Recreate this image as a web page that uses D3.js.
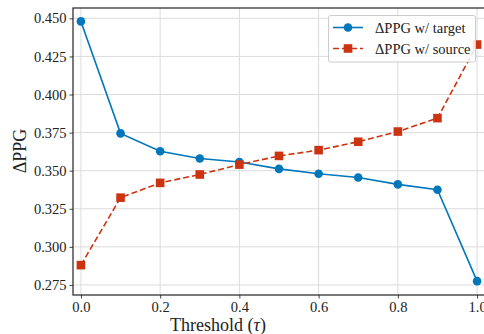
<!DOCTYPE html>
<html>
<head>
<meta charset="utf-8">
<script src="https://cdn.jsdelivr.net/npm/d3@7"></script>
<style>
  body { margin: 0; background: #fff; }
  svg text { font-family: "Liberation Serif", "DejaVu Serif", serif; }
</style>
</head>
<body>
<svg id="chart" width="484" height="334"></svg>
<script>
// data
const thresholds = [0.0, 0.1, 0.2, 0.3, 0.4, 0.5, 0.6, 0.7, 0.8, 0.9, 1.0];
const ppgTarget = [0.448, 0.3745, 0.3628, 0.358, 0.3557, 0.3512, 0.348, 0.3455, 0.341, 0.3375, 0.2775];
const ppgSource = [0.288, 0.3323, 0.342, 0.3475, 0.354, 0.3597, 0.3635, 0.369, 0.3757, 0.3845, 0.4328];
const xTicks = [0.0, 0.2, 0.4, 0.6, 0.8, 1.0];
const yTicks = [0.275, 0.300, 0.325, 0.350, 0.375, 0.400, 0.425, 0.450];
const seriesNames = ['\u0394PPG w/ target', '\u0394PPG w/ source'];

const margin = { left: 73, top: 8, right: -1, bottom: 39 };
const width = 484, height = 334;
const blue = '#0077bb', red = '#cc3311';
const serif = '"Liberation Serif", "DejaVu Serif", serif';

const svg = d3.select('#chart');

const xScale = d3.scaleLinear().domain([-0.02, 1.02]).range([margin.left, width - margin.right]);
const yScale = d3.scaleLinear().domain([0.2684, 0.4568]).range([height - margin.bottom, margin.top]);

// grid
const grid = svg.append('g').attr('stroke', '#dcdcdc').attr('stroke-width', 1);
grid.selectAll('.gx').data(xTicks).enter().append('line')
    .attr('x1', d => xScale(d)).attr('x2', d => xScale(d))
    .attr('y1', margin.top).attr('y2', height - margin.bottom);
grid.selectAll('.gy').data(yTicks).enter().append('line')
    .attr('y1', d => yScale(d)).attr('y2', d => yScale(d))
    .attr('x1', margin.left).attr('x2', width - margin.right);

// axes
const xAxis = svg.append('g')
    .attr('transform', `translate(0, ${height - margin.bottom})`)
    .call(d3.axisBottom(xScale).tickValues(xTicks).tickFormat(d3.format('.1f')).tickSize(3.5).tickPadding(3));
const yAxis = svg.append('g')
    .attr('transform', `translate(${margin.left}, 0)`)
    .call(d3.axisLeft(yScale).tickValues(yTicks).tickFormat(d3.format('.3f')).tickSize(3.5).tickPadding(3));
[xAxis, yAxis].forEach(a => {
    a.attr('font-family', serif).attr('font-size', 14.5);
    a.selectAll('text').attr('fill', '#222');
    a.select('.domain').remove();
    a.selectAll('line').attr('stroke', '#444');
});

// frame
svg.append('rect')
    .attr('x', margin.left).attr('y', margin.top)
    .attr('width', width - margin.right - margin.left)
    .attr('height', height - margin.bottom - margin.top)
    .attr('fill', 'none').attr('stroke', '#222').attr('stroke-width', 1.2);

// lines
const pts = (vals) => thresholds.map((t, i) => [t, vals[i]]);
const line = d3.line().x(d => xScale(d[0])).y(d => yScale(d[1]));

svg.append('path').datum(pts(ppgTarget))
    .attr('d', line).attr('fill', 'none').attr('stroke', blue).attr('stroke-width', 1.6);
svg.append('g').selectAll('circle').data(pts(ppgTarget)).enter().append('circle')
    .attr('cx', d => xScale(d[0])).attr('cy', d => yScale(d[1])).attr('r', 4.3).attr('fill', blue);

svg.append('path').datum(pts(ppgSource))
    .attr('d', line).attr('fill', 'none').attr('stroke', red).attr('stroke-width', 1.6)
    .attr('stroke-dasharray', '6,3');
svg.append('g').selectAll('rect').data(pts(ppgSource)).enter().append('rect')
    .attr('x', d => xScale(d[0]) - 4.3).attr('y', d => yScale(d[1]) - 4.3)
    .attr('width', 8.6).attr('height', 8.6).attr('fill', red);

// axis labels
svg.append('text')
    .attr('x', 218).attr('y', 331)
    .attr('font-family', serif).attr('font-size', 18).attr('fill', '#222')
    .attr('text-anchor', 'middle')
    .html('Threshold (<tspan font-style="italic">\u03c4</tspan>)');
svg.append('text')
    .attr('transform', `translate(20, 151) rotate(-90)`)
    .attr('text-anchor', 'middle').attr('dominant-baseline', 'central')
    .attr('font-family', serif).attr('font-size', 18).attr('fill', '#222')
    .text('\u0394PPG');

// legend
const legend = svg.append('g');
legend.append('rect')
    .attr('x', 328.5).attr('y', 15.5).attr('width', 147).attr('height', 46.5)
    .attr('fill', '#fff').attr('fill-opacity', 0.85).attr('stroke', '#ccc').attr('stroke-width', 1).attr('rx', 2);
const legendColors = [blue, red];
seriesNames.forEach((name, i) => {
    const y = 27.5 + i * 21;
    legend.append('line')
        .attr('x1', 333).attr('x2', 363).attr('y1', y).attr('y2', y)
        .attr('stroke', legendColors[i]).attr('stroke-width', 1.6)
        .attr('stroke-dasharray', i === 1 ? '6,3' : null);
    if (i === 0) {
        legend.append('circle').attr('cx', 348).attr('cy', y).attr('r', 4.3).attr('fill', blue);
    } else {
        legend.append('rect').attr('x', 343.7).attr('y', y - 4.3).attr('width', 8.6).attr('height', 8.6).attr('fill', red);
    }
    legend.append('text')
        .attr('x', 375).attr('y', y + 5)
        .attr('font-family', serif).attr('font-size', 14.5).attr('fill', '#222')
        .text(name);
});
</script>
</body>
</html>
